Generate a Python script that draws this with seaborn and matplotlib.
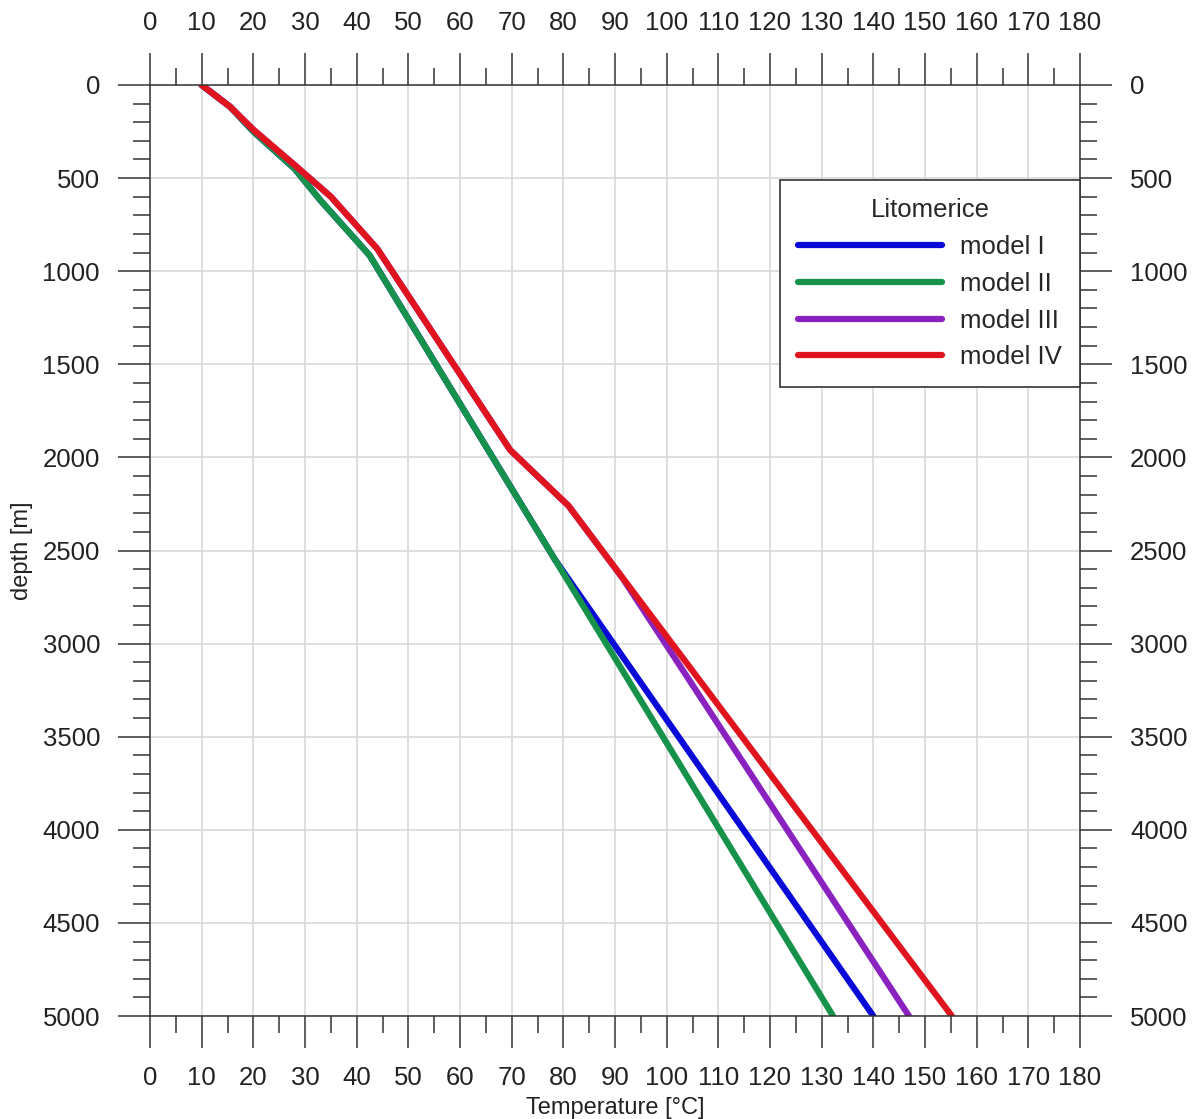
import matplotlib
matplotlib.use("Agg")
import matplotlib.pyplot as plt
from matplotlib.ticker import MultipleLocator
import seaborn as sns
import pandas as pd

# ---- data ----
model_names = ["model I", "model II", "model III", "model IV"]

m1_temp = [10, 15.5, 20, 28, 33, 42.5, 78.4, 140]
m1_depth = [0, 117, 250, 450, 620, 915, 2550, 5000]

m2_temp = [10, 15.5, 20, 28, 33, 42.5, 78.4, 132.2]
m2_depth = [0, 117, 250, 450, 620, 915, 2550, 5000]

m3_temp = [10, 15.5, 20, 28, 35, 44, 69.7, 81, 91.5, 146.9]
m3_depth = [0, 117, 240, 430, 600, 880, 1960, 2260, 2650, 5000]

m4_temp = [10, 15.5, 20, 28, 35, 44, 69.7, 81, 155.2]
m4_depth = [0, 117, 240, 430, 600, 880, 1960, 2260, 5000]

colors = ["#0a0ad8", "#16924a", "#8a22c0", "#e0141e"]

frames = []
for name, t, d in zip(model_names, [m1_temp, m2_temp, m3_temp, m4_temp],
                      [m1_depth, m2_depth, m3_depth, m4_depth]):
    frames.append(pd.DataFrame({"model": name, "temp": t, "depth": d}))
df = pd.concat(frames, ignore_index=True)

sns.set_theme(style="white")
plt.rcParams["font.family"] = ["Liberation Sans", "DejaVu Sans"]

fig = plt.figure(figsize=(11.93, 11.19), dpi=100)
ax = fig.add_axes([150 / 1193, 1 - 1016 / 1119, 930 / 1193, 931 / 1119])

sns.lineplot(data=df, x="temp", y="depth", hue="model", hue_order=model_names,
             palette=colors, sort=False, estimator=None, linewidth=4.5,
             solid_capstyle="round", ax=ax)

ax.set_xlim(0, 180)
ax.set_ylim(5000, 0)
ax.xaxis.set_major_locator(MultipleLocator(10))
ax.xaxis.set_minor_locator(MultipleLocator(5))
ax.yaxis.set_major_locator(MultipleLocator(500))
ax.yaxis.set_minor_locator(MultipleLocator(100))

ax.grid(True, which="major", color="#d6d6d6", linewidth=1.1)
ax.set_axisbelow(True)

for s in ax.spines.values():
    s.set_color("#333333")
    s.set_linewidth(1.1)

ax.tick_params(which="both", direction="out", top=True, bottom=True, left=True, right=True,
               labeltop=True, labelbottom=True, labelleft=True, labelright=True,
               color="#333333", width=1.1)
ax.tick_params(which="major", length=23, labelsize=18.5, pad=13, labelcolor="#222222")
ax.tick_params(which="minor", length=12)

ax.set_xlabel("Temperature [°C]", fontsize=17, color="#222222")
ax.set_ylabel("depth [m]", fontsize=17, color="#222222")
ax.xaxis.set_label_coords(0.5, (1016 - 1108) / 931)
ax.yaxis.set_label_coords((22 - 150) / 930, 0.5)
ax.xaxis.label.set_verticalalignment("center")
ax.yaxis.label.set_verticalalignment("center")

leg = ax.legend(title="Litomerice", loc="upper right", bbox_to_anchor=(1.0, 1 - 95 / 931),
                fontsize=18.5, title_fontsize=18.5, frameon=True, fancybox=False,
                edgecolor="#333333", framealpha=1, handlelength=5.6, handletextpad=0.7,
                borderaxespad=0, labelspacing=0.5, borderpad=0.7)
leg.get_frame().set_linewidth(1.2)
for line in leg.get_lines():
    line.set_linewidth(4.5)
    line.set_solid_capstyle("round")

fig.savefig("out.png", dpi=100)
